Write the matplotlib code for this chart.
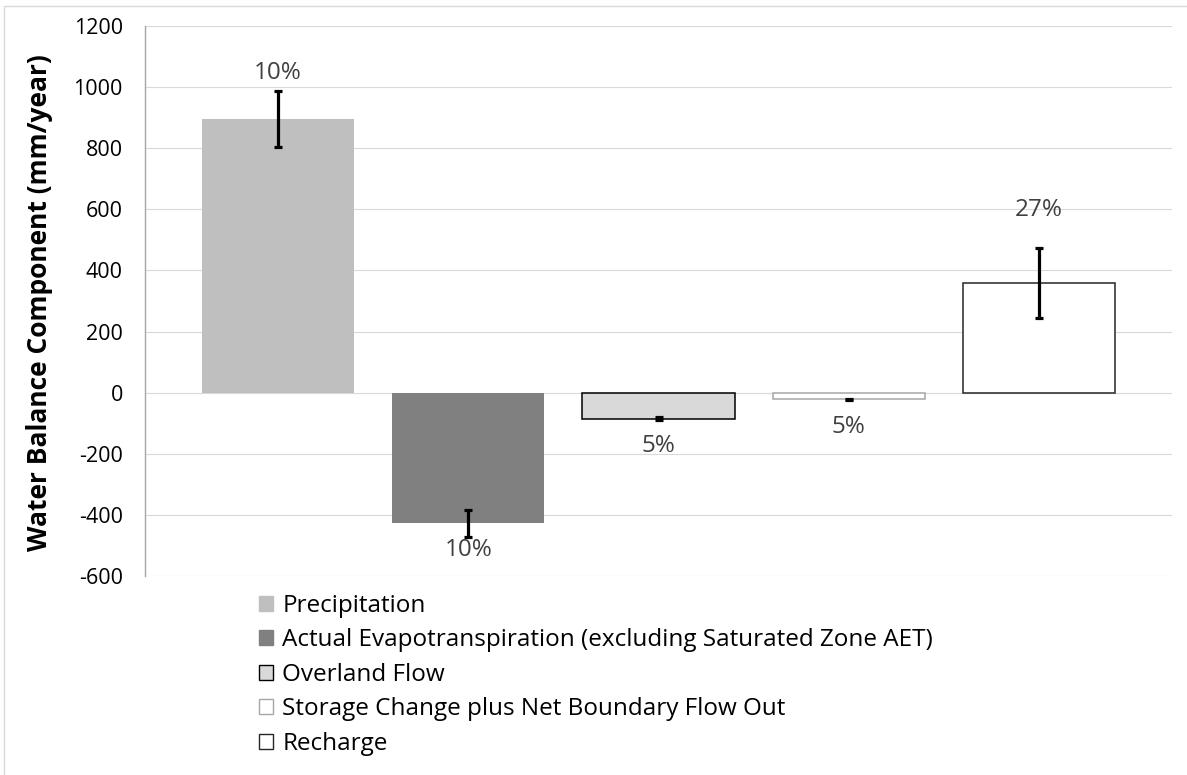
import matplotlib
matplotlib.use("Agg")
import matplotlib.pyplot as plt
from matplotlib.patches import Patch, Rectangle

# water balance components (mm/year) and their uncertainty
components = [
    "Precipitation",
    "Actual Evapotranspiration (excluding Saturated Zone AET)",
    "Overland Flow",
    "Storage Change plus Net Boundary Flow Out",
    "Recharge",
]
values = [895, -427, -85, -22, 360]
errors = [92, 44, 4, 1, 114]
pct_labels = ["10%", "10%", "5%", "5%", "27%"]

y_ticks = [-600, -400, -200, 0, 200, 400, 600, 800, 1000, 1200]

# styling
fills = ["#BFBFBF", "#808080", "#D9D9D9", "#FFFFFF", "#FFFFFF"]
edges = ["none", "none", "#000000", "#A6A6A6", "#262626"]
label_offset_px = [18, -13, -26, -27, 38]   # from the end of the error bar
FONT = ["Open Sans", "DejaVu Sans"]
plt.rcParams["font.family"] = FONT
plt.rcParams["axes.unicode_minus"] = False

W, H, DPI = 1187, 775, 100
fig = plt.figure(figsize=(W / DPI, H / DPI), dpi=DPI)
ax = fig.add_axes([145 / W, 1 - 576 / H, (1172 - 145) / W, (576 - 26) / H])

x = list(range(len(values)))
for i in x:
    ax.bar(i, values[i], width=0.8, color=fills[i], edgecolor=edges[i],
           linewidth=1.1, zorder=2)
    ax.errorbar(i, values[i], yerr=errors[i], fmt="none", ecolor="black",
                elinewidth=2.3, capsize=3, capthick=2.3, zorder=3)
    sign = 1 if values[i] >= 0 else -1
    ax.annotate(pct_labels[i], (i, values[i] + sign * errors[i]),
                xytext=(0, label_offset_px[i] * 72 / DPI),
                textcoords="offset points", ha="center", va="center",
                fontsize=17.5, color="#404040", zorder=4)

ax.set_xlim(-0.7, 4.7)
ax.set_ylim(-600, 1200)
ax.set_yticks(y_ticks)
ax.set_xticks([])
ax.tick_params(axis="y", length=0, pad=16, labelsize=15.5)
ax.grid(axis="y", color="#D9D9D9", linewidth=0.8, zorder=0)
for s in ["top", "right", "bottom"]:
    ax.spines[s].set_visible(False)
ax.spines["left"].set_color("#A6A6A6")
ax.spines["left"].set_linewidth(1.0)

fig.text(40 / W, 1 - 303 / H, "Water Balance Component (mm/year)",
         rotation=90, ha="center", va="center", fontsize=19, fontweight="bold")

handles = [Patch(facecolor=fills[i],
                 edgecolor=edges[i] if edges[i] != "none" else fills[i],
                 linewidth=1.0) for i in x]
fig.legend(handles, components, loc="upper left",
           bbox_to_anchor=(259 / W, 1 - 594 / H), frameon=False,
           fontsize=17.5, handlelength=0.58, handleheight=0.58,
           handletextpad=0.38, labelspacing=0.43, borderaxespad=0,
           borderpad=0)

# light chart-area border
fig.add_artist(Rectangle((4 / W, -0.1), 1.2, 1 - 6 / H + 0.1,
                         transform=fig.transFigure, fill=False,
                         edgecolor="#D9D9D9", linewidth=1.0))

fig.savefig("out.png", dpi=DPI)
